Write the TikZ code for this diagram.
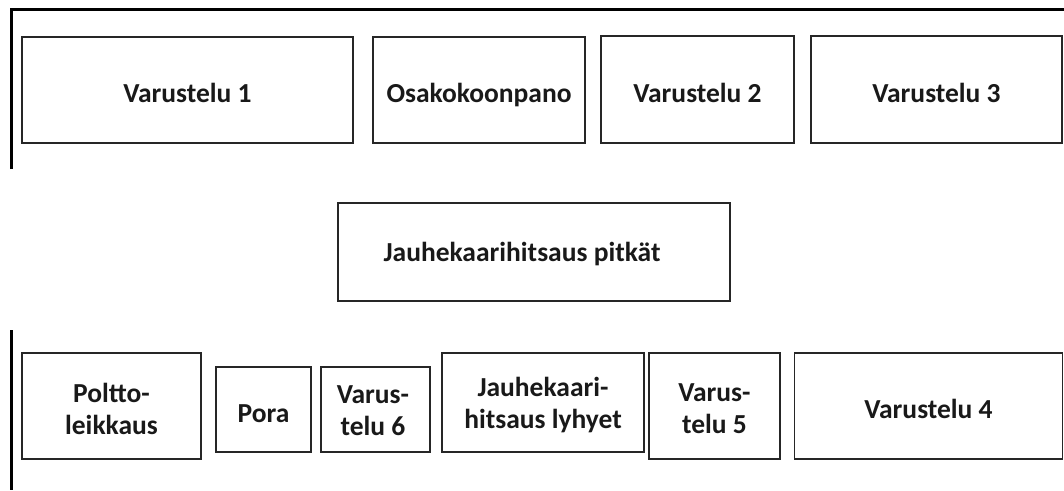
\documentclass[tikz,border=0pt]{standalone}
\usepackage{fontspec}
\setmainfont{Carlito}
\begin{document}
\begin{tikzpicture}[x=1pt,y=-1pt,
  box/.style={draw=black!85, line width=1.8pt, rectangle, inner sep=0pt,
    font=\fontsize{27.5}{32}\selectfont\bfseries, align=center, text=black!90},
  one/.style={text height=25pt, text depth=0pt},
  lbl/.style={font=\fontsize{27.5}{32}\selectfont\bfseries, text=black!90, inner sep=0pt},
  wall/.style={draw=black, line width=3pt}]
\useasboundingbox (0,0) rectangle (1064,490);
% walls
\coordinate (wa) at (11,169);
\coordinate (wb) at (11,9);
\coordinate (wc) at (1064,9);
\coordinate (wd) at (11,330);
\coordinate (we) at (11,490);
\draw[wall] (wa) -- (wb) -- (wc);
\draw[wall] (wd) -- (we);
% top row
\node[box, one, minimum width=331, minimum height=106] (v1) at (187.5,90) {Varustelu 1};
\node[box, one, minimum width=212, minimum height=106] (osa) at (479,90) {Osakokoonpano};
\node[box, one, minimum width=193, minimum height=107] (v2) at (697.5,89.5) {Varustelu 2};
\node[box, one, minimum width=251, minimum height=107] (v3) at (936.5,89.5) {Varustelu 3};
% middle
\node[box, minimum width=392, minimum height=98] (jp) at (534,252) {};
\node[lbl, text height=18pt, text depth=0pt] (jpt) at (522,252) {Jauhekaarihitsaus pitkät};
% bottom row
\node[box, minimum width=179, minimum height=106] (pl) at (111.5,406) {};
\node[lbl, align=center] (plt) at (111.5,409) {Poltto-\\leikkaus};
\node[box, one, minimum width=95, minimum height=85] (pora) at (263.5,409.5) {Pora};
\node[box, minimum width=109, minimum height=85] (v6) at (375.5,409.5) {};
\node[lbl, align=center] (v6t) at (373,411) {Varus-\\telu 6};
\node[box, minimum width=202, minimum height=99] (jl) at (543,402.5) {};
\node[lbl, align=center] (jlt) at (543,405) {Jauhekaari-\\hitsaus lyhyet};
\node[box, minimum width=131, minimum height=106] (v5) at (714.5,406) {};
\node[lbl, align=center] (v5t) at (714.5,409) {Varus-\\telu 5};
\node[box, one, minimum width=268, minimum height=106] (v4) at (928.5,406) {Varustelu 4};
\end{tikzpicture}
\end{document}
